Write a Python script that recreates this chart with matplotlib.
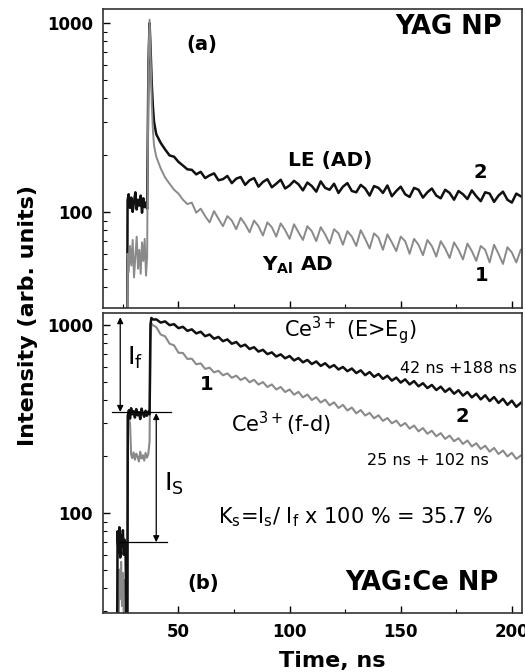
import numpy as np
import matplotlib.pyplot as plt
from matplotlib.ticker import MultipleLocator, LogLocator, FormatStrFormatter, NullFormatter

# time axis, ns (decay part shared by all four traces)
t_decay = [40, 42, 44, 46, 48, 50, 52, 54, 56, 58, 60, 62, 64, 66, 68, 70, 72, 74, 76, 78,
           80, 82, 84, 86, 88, 90, 92, 94, 96, 98, 100, 102, 104, 106, 108, 110, 112, 114,
           116, 118, 120, 122, 124, 126, 128, 130, 132, 134, 136, 138, 140, 142, 144, 146,
           148, 150, 152, 154, 156, 158, 160, 162, 164, 166, 168, 170, 172, 174, 176, 178,
           180, 182, 184, 186, 188, 190, 192, 194, 196, 198, 200, 202, 204]

# (a) YAG NP
t_a_pre = [16, 26.9, 27.1, 27.6, 28.2, 28.8, 29.4, 30.0, 30.6, 31.2, 31.8, 32.4, 33.0, 33.6,
           34.2, 34.8, 35.4, 35.9, 36.5, 37.0, 37.5, 38.0, 38.5, 39.0]
le_pre = [20, 20, 115, 124, 105, 119, 100, 113, 127, 103, 116, 108, 122, 99, 118, 106, 112,
          104, 620, 1000, 700, 470, 360, 300]
le_dec = [258, 232, 214, 199, 196, 184, 176, 168, 167, 158,
          163, 151, 156, 160, 147, 149, 155, 142, 150, 153,
          139, 147, 151, 136, 144, 149, 135, 141, 148, 133,
          138, 146, 140, 130, 143, 137, 128, 145, 134, 131,
          141, 126, 136, 142, 129, 127, 139, 133, 122, 137,
          134, 126, 138, 121, 129, 136, 124, 120, 134, 131,
          119, 127, 133, 122, 118, 131, 126, 116, 129, 124,
          117, 130, 121, 114, 127, 125, 113, 122, 128, 116,
          112, 125, 121]
yal_pre = [20, 20, 60, 48, 66, 52, 71, 45, 58, 74, 50, 63, 47, 69, 55, 72, 46, 58, 640, 1040,
           640, 370, 270, 225]
yal_dec = [196, 170, 152, 141, 131, 125, 116, 110, 112, 99,
           104, 95, 88, 101, 92, 84, 95, 90, 81, 93,
           86, 78, 90, 84, 75, 88, 83, 74, 87, 80,
           72, 86, 78, 71, 84, 79, 70, 83, 76, 68,
           81, 77, 67, 79, 74, 66, 80, 72, 64, 77,
           73, 63, 76, 69, 62, 74, 70, 60, 72, 67,
           59, 71, 66, 58, 70, 64, 57, 69, 63, 56,
           68, 62, 55, 66, 63, 54, 67, 60, 53, 65,
           61, 54, 63]

# (b) YAG:Ce NP
t_b_pre = [16, 22.4, 22.6, 23.0, 23.4, 23.8, 24.2, 24.6, 25.0, 25.4, 25.8, 26.2, 26.6, 27.0,
           27.2, 27.7, 28.2, 28.7, 29.2, 29.8, 30.4, 31.0, 31.6, 32.2, 32.8, 33.4, 34.0, 34.6,
           35.2, 35.8, 36.4, 37.0, 37.4, 37.8, 38.3, 39.0]
eg_pre = [20, 20, 80, 62, 84, 58, 76, 66, 81, 60, 72, 64, 20, 20, 330, 352, 318, 361, 335, 348,
          322, 357, 331, 344, 316, 359, 337, 325, 350, 329, 346, 335, 1000, 1090, 1075, 1068]
eg_dec = [1072, 1030, 1045, 998, 1010, 962, 978, 931, 948, 902, 921, 872, 890, 845, 864, 820,
          838, 795, 812, 768, 786, 745, 762, 722, 738, 700, 715, 680, 698, 665, 684, 648, 667,
          633, 652, 620, 640, 606, 626, 594, 612, 580, 598, 568, 587, 555, 574, 541, 562, 530,
          549, 517, 537, 506, 525, 494, 514, 483, 503, 472, 490, 462, 480, 451, 470, 441, 460,
          431, 450, 421, 440, 412, 431, 402, 423, 394, 414, 385, 405, 376, 396, 367, 385]
fd_pre = [20, 20, 20, 20, 50, 35, 55, 32, 48, 30, 44, 33, 20, 20, 325, 318, 300, 205, 196, 210,
          192, 207, 199, 188, 212, 195, 203, 190, 209, 197, 205, 240, 800, 1020, 1000, 990]
fd_dec = [975, 890, 870, 795, 780, 712, 710, 660, 662, 618, 625, 584, 593, 560, 571, 540, 553,
          524, 538, 510, 525, 496, 511, 482, 497, 468, 483, 454, 468, 440, 454, 426, 441, 412,
          427, 399, 413, 387, 401, 374, 388, 362, 376, 351, 364, 339, 353, 330, 341, 319, 331,
          309, 320, 300, 310, 290, 301, 281, 292, 272, 283, 264, 274, 256, 266, 248, 258, 241,
          250, 233, 243, 226, 235, 219, 228, 212, 222, 206, 215, 200, 209, 194, 202]

# slow / fast component markers in (b)
i_f_top, i_f_bot = 1100, 345
i_s_top, i_s_bot = 340, 70

black = '#111111'
grey = '#8a8a8a'

fig = plt.figure(figsize=(5.25, 6.72), dpi=100)
ax1 = fig.add_axes([0.196, 0.5417, 0.798, 0.4449])
ax2 = fig.add_axes([0.196, 0.0878, 0.798, 0.4464])

ax1.plot(t_a_pre + t_decay, le_pre + le_dec, color=black, lw=1.8)
ax1.plot(t_a_pre + t_decay, yal_pre + yal_dec, color=grey, lw=1.4)

ax2.plot(t_b_pre + t_decay, fd_pre + fd_dec, color=grey, lw=1.5)
ax2.plot(t_b_pre + t_decay, eg_pre + eg_dec, color=black, lw=1.8)

ax1.set_ylim(31, 1186)
ax2.set_ylim(29.4, 1158)

for ax in (ax1, ax2):
    ax.set_yscale('log')
    ax.set_xlim(16, 204.5)
    ax.xaxis.set_major_locator(MultipleLocator(50))
    ax.xaxis.set_minor_locator(MultipleLocator(25))
    ax.yaxis.set_major_locator(LogLocator(base=10))
    ax.yaxis.set_minor_locator(LogLocator(base=10, subs=np.arange(2, 10)))
    ax.yaxis.set_major_formatter(FormatStrFormatter('%d'))
    ax.yaxis.set_minor_formatter(NullFormatter())
    ax.tick_params(which='major', direction='in', length=5, width=1.0, labelsize=12, pad=7)
    ax.tick_params(which='minor', direction='in', length=3, width=0.8)
    for lab in ax.get_yticklabels() + ax.get_xticklabels():
        lab.set_fontweight('bold')
    for s in ax.spines.values():
        s.set_linewidth(1.2)
        s.set_color('#333333')

ax1.tick_params(labelbottom=False)

# panel (a) labels
ax1.text(60.6, 774, '(a)', ha='center', va='center', fontsize=14, fontweight='bold')
ax1.text(195.4, 952, 'YAG NP', ha='right', va='center', fontsize=18.5, fontweight='bold')
ax1.text(99.5, 188, 'LE (AD)', ha='left', va='center', fontsize=14.5, fontweight='bold')
ax1.text(185.7, 162, '2', ha='center', va='center', fontsize=14, fontweight='bold')
ax1.text(87.4, 52, r'Y$_\mathbf{Al}$ AD', ha='left', va='center', fontsize=14.5, fontweight='bold')
ax1.text(186.4, 46, '1', ha='center', va='center', fontsize=14, fontweight='bold')

# panel (b) labels
ax2.text(97.3, 865, r'Ce$^{3+}$ (E>E$_\mathregular{g}$)', ha='left', va='baseline', fontsize=15)
ax2.text(202.2, 556, '42 ns +188 ns', ha='right', va='baseline', fontsize=11.5)
ax2.text(177.5, 306, '2', ha='center', va='baseline', fontsize=14, fontweight='bold')
ax2.text(73.7, 270, r'Ce$^{3+}$(f-d)', ha='left', va='baseline', fontsize=15)
ax2.text(135, 180, '25 ns + 102 ns', ha='left', va='baseline', fontsize=11.5)
ax2.text(62.5, 480, '1', ha='center', va='center', fontsize=14, fontweight='bold')
ax2.text(67.6, 88.5, r'K$_\mathregular{s}$=I$_\mathregular{s}$/ I$_\mathregular{f}$ x 100 % = 35.7 %',
         ha='left', va='baseline', fontsize=15)
ax2.text(61, 42.4, '(b)', ha='center', va='center', fontsize=14, fontweight='bold')
ax2.text(193.9, 38.9, 'YAG:Ce NP', ha='right', va='baseline', fontsize=18.5, fontweight='bold')

# I_f and I_s markers
arrow = dict(arrowstyle='<|-|>', color='k', lw=0.9, mutation_scale=9, shrinkA=0, shrinkB=0)
ax2.annotate('', xy=(23.8, i_f_bot), xytext=(23.8, i_f_top), arrowprops=arrow)
ax2.annotate('', xy=(40, i_s_bot), xytext=(40, i_s_top), arrowprops=arrow)
ax2.plot([20.3, 46.8], [i_f_bot, i_f_bot], color='k', lw=0.9)
ax2.plot([23.5, 45], [i_s_bot, i_s_bot], color='k', lw=0.9)
ax2.text(27.0, 613, r'I$_\mathregular{f}$', ha='left', va='baseline', fontsize=18)
ax2.text(43.7, 132, r'I$_\mathregular{S}$', ha='left', va='baseline', fontsize=18)

fig.text(0.053, 0.53, 'Intensity (arb. units)', rotation=90, ha='center', va='center',
         fontsize=16, fontweight='bold')
fig.text(0.632, 0.0074, 'Time, ns', ha='center', va='baseline', fontsize=16, fontweight='bold')

fig.savefig('out.png', dpi=100)
